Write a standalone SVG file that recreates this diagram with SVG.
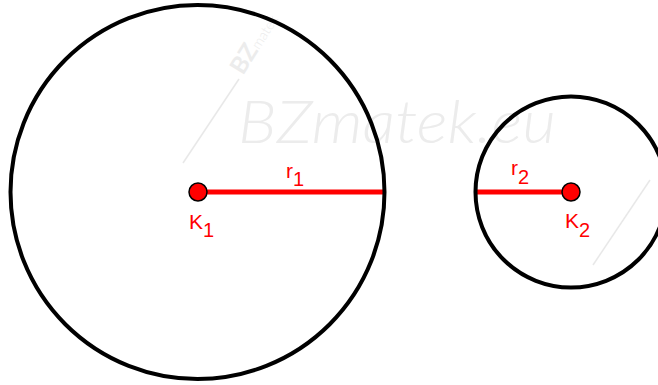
<svg xmlns="http://www.w3.org/2000/svg" width="658" height="385" viewBox="0 0 658 385">
<style>
.wm{fill:#ececec;font-family:Lato,"Open Sans","Liberation Sans",sans-serif}
.wl{stroke:#e8e8e8;stroke-width:1.5}
.circ{fill:none;stroke:#000;stroke-width:4}
.rad{stroke:#ff0000;stroke-width:5}
.pt{fill:#ff0000;stroke:#000;stroke-width:1.5}
.lbl{fill:#ff0000;font-family:"Liberation Sans",Arial,sans-serif;font-size:21px}
.sub{font-size:20px}
</style>
<rect width="658" height="385" fill="#fff"/>
<g id="watermark">
<text class="wm" x="238" y="143" font-size="60" font-style="italic" font-weight="300" textLength="318" lengthAdjust="spacingAndGlyphs">BZmatek.eu</text>
<text class="wm" x="243" y="76" font-size="24" font-weight="bold" transform="rotate(-58 243 76)">BZ<tspan font-weight="300" font-size="14">matek</tspan></text>
<line class="wl" x1="183" y1="163" x2="239" y2="79"/>
<line class="wl" x1="593" y1="265" x2="650" y2="180"/>
</g>
<g id="connectors">
<line class="rad" x1="198" y1="192" x2="386" y2="192"/>
<line class="rad" x1="475" y1="192" x2="571" y2="192"/>
</g>
<g id="circle1">
<circle class="circ" cx="197.5" cy="192" r="187"/>
</g>
<g id="circle2">
<circle class="circ" cx="571" cy="192" r="95.5"/>
</g>
<g id="K1">
<circle class="pt" cx="198" cy="192" r="9"/>
<text class="lbl" x="189" y="229">K<tspan class="sub" dy="8">1</tspan></text>
</g>
<g id="K2">
<circle class="pt" cx="571" cy="192" r="9"/>
<text class="lbl" x="565" y="228">K<tspan class="sub" dy="9">2</tspan></text>
</g>
<g id="r1">
<text class="lbl" x="286" y="178">r<tspan class="sub" dy="8">1</tspan></text>
</g>
<g id="r2">
<text class="lbl" x="511" y="175">r<tspan class="sub" dy="9">2</tspan></text>
</g>
</svg>
